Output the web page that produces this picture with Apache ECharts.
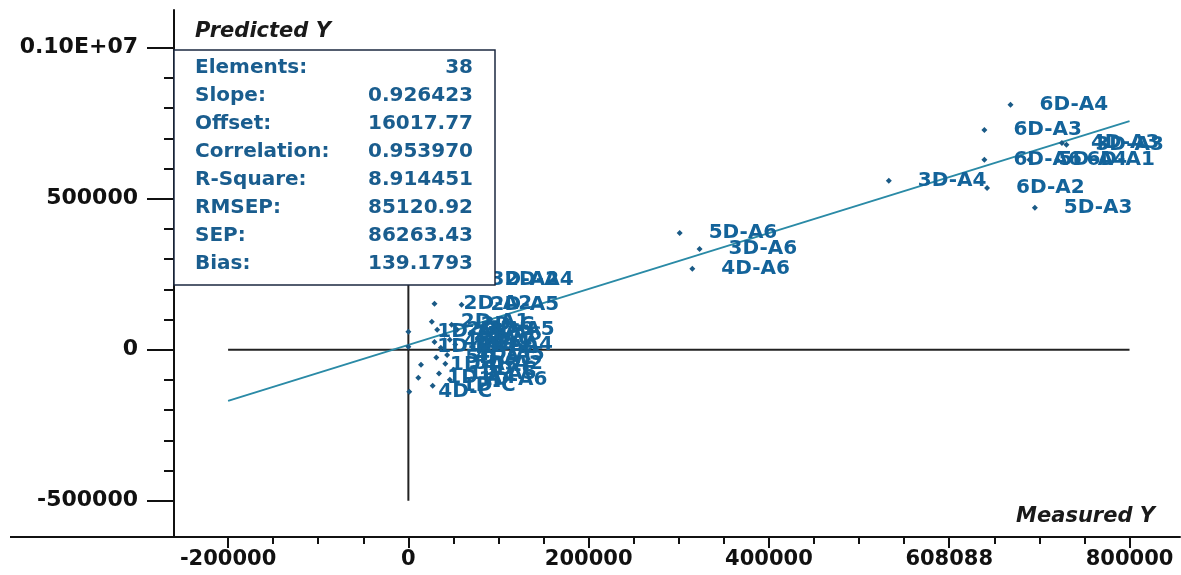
<!DOCTYPE html>
<html>
<head>
<meta charset="utf-8">
<script src="https://cdn.jsdelivr.net/npm/echarts@6/dist/echarts.min.js"></script>
<style>
  html, body { margin: 0; padding: 0; background: #ffffff; }
  #chart { width: 1181px; height: 575px; }
</style>
</head>
<body>
<div id="chart"></div>
<script>
// Sample identifiers with measured (x) and predicted (y) values
const sampleNames = [
  '6D-A4', '6D-A3', '4D-A3', '3D-A3', '6D-A6', '5D-A4', '6D-A1', '6D-A2', '5D-A3', '3D-A4',
  '5D-A6', '3D-A6', '4D-A6',
  '3D-A2', '2D-A4', '2D-A2', '2D-A5', '4D-C',
  '1D-A1', '1D-A2', '1D-A3', '1D-A4', '2D-A1', '2D-A3', '2D-A6', '2D-C', '3D-A5', '3D-C',
  '4D-A1', '4D-A2', '4D-A4', '4D-A5', '5D-A1', '5D-A2', '5D-C', '1D-A5', '1D-A6', '1D-C'
];
const measuredY = [
  668000, 639000, 725000, 730000, 639000, 689000, 720000, 642000, 695000, 533000,
  301000, 323000, 315000,
  59000, 75000, 29000, 59000, 1000,
  0, 0, 14000, 11000, 26000, 32000, 40000, 48000, 54000, 46000,
  29000, 36000, 52000, 43000, 31000, 41000, 50000, 34000, 46000, 27000
];
const predictedY = [
  811000, 728000, 685000, 679000, 629000, 629000, 629000, 536000, 470000, 560000,
  387000, 334000, 268000,
  232000, 232000, 152000, 149000, -139000,
  60000, 10000, -50000, -93000, 93000, 66000, 50000, 83000, 66000, 33000,
  26000, 7000, 17000, -17000, -26000, -46000, -66000, -79000, -99000, -119000
];

// Regression statistics
const statNames = ['Elements:', 'Slope:', 'Offset:', 'Correlation:', 'R-Square:', 'RMSEP:', 'SEP:', 'Bias:'];
const statValues = ['38', '0.926423', '16017.77', '0.953970', '8.914451', '85120.92', '86263.43', '139.1793'];
const fitSlope = 0.926423;
const fitOffset = 16017.77;
const fitRange = [-200000, 800000];

// Reference cross lines through the origin
const zeroLineX = [-200000, 800000];
const zeroLineY = [-500000, 900000];

// Axis ticks and their labels
const xMajorTicks = [-200000, 0, 200000, 400000, 600000, 800000];
const xTickLabels = ['-200000', '0', '200000', '400000', '608088', '800000'];
const xMinorTicks = [-150000, -100000, -50000, 50000, 100000, 150000, 250000, 300000, 350000,
  450000, 500000, 550000, 650000, 700000, 750000];
const yMajorTicks = [-500000, 0, 500000, 1000000];
const yTickLabels = ['-500000', '0', '500000', '0.10E+07'];
const yMinorTicks = [-400000, -300000, -200000, -100000, 100000, 200000, 300000, 400000,
  600000, 700000, 800000, 900000];

const xRange = [-260000, 856000];
const yRange = [-620000, 1125000];

const pointColor = '#1a5a86';
const labelColor = '#13639a';
const statColor = '#1a5d8e';
const axisFont = 'DejaVu Sans';

const chart = echarts.init(document.getElementById('chart'), null, { renderer: 'canvas' });

const samples = sampleNames.map((n, i) => ({ name: n, value: [measuredY[i], predictedY[i]] }));
const fitLine = fitRange.map(x => [x, fitSlope * x + fitOffset]);

const statGraphics = [];
statNames.forEach((s, i) => {
  statGraphics.push({
    type: 'text', z: 101,
    x: 195, y: 68 + i * 27.9,
    style: { text: s, fill: statColor, font: 'bold 20px "DejaVu Sans"', textVerticalAlign: 'middle', textAlign: 'left' }
  });
  statGraphics.push({
    type: 'text', z: 101,
    x: 473, y: 68 + i * 27.9,
    style: { text: statValues[i], fill: statColor, font: 'bold 20px "DejaVu Sans"', textVerticalAlign: 'middle', textAlign: 'right' }
  });
});

function tickLabel(ticks, labels) {
  return v => {
    const k = ticks.indexOf(v);
    return k >= 0 ? labels[k] : '';
  };
}

chart.setOption({
  animation: false,
  backgroundColor: '#ffffff',
  grid: { left: 174, right: 1, top: 10, bottom: 38, containLabel: false },
  xAxis: [
    {
      type: 'value', min: xRange[0], max: xRange[1],
      axisLine: { show: true, onZero: false, lineStyle: { color: '#111', width: 2 } },
      axisTick: { show: true, customValues: xMajorTicks, length: 11, lineStyle: { color: '#111', width: 2 } },
      axisLabel: {
        show: true, customValues: xMajorTicks, formatter: tickLabel(xMajorTicks, xTickLabels),
        margin: 12, color: '#111', fontFamily: axisFont, fontWeight: 'bold', fontSize: 21
      },
      splitLine: { show: false }
    },
    {
      type: 'value', min: xRange[0], max: xRange[1], position: 'bottom',
      axisLine: { show: false, onZero: false },
      axisTick: { show: true, customValues: xMinorTicks, length: 7, lineStyle: { color: '#111', width: 2 } },
      axisLabel: { show: false },
      splitLine: { show: false }
    }
  ],
  yAxis: [
    {
      type: 'value', min: yRange[0], max: yRange[1],
      axisLine: { show: true, onZero: false, lineStyle: { color: '#111', width: 2 } },
      axisTick: { show: true, customValues: yMajorTicks, length: 27, lineStyle: { color: '#111', width: 2 } },
      axisLabel: {
        show: true, customValues: yMajorTicks, formatter: tickLabel(yMajorTicks, yTickLabels),
        margin: 36, color: '#111', fontFamily: axisFont, fontWeight: 'bold', fontSize: 22
      },
      splitLine: { show: false }
    },
    {
      type: 'value', min: yRange[0], max: yRange[1], position: 'left',
      axisLine: { show: false, onZero: false },
      axisTick: { show: true, customValues: yMinorTicks, length: 10, lineStyle: { color: '#111', width: 2 } },
      axisLabel: { show: false },
      splitLine: { show: false }
    }
  ],
  series: [
    {
      name: 'zero-x', type: 'line', data: zeroLineX.map(x => [x, 0]),
      showSymbol: false, silent: true, z: 1,
      lineStyle: { color: '#222', width: 2 }
    },
    {
      name: 'zero-y', type: 'line', data: zeroLineY.map(y => [0, y]),
      showSymbol: false, silent: true, z: 1,
      lineStyle: { color: '#222', width: 2 }
    },
    {
      name: 'fit', type: 'line', data: fitLine,
      showSymbol: false, silent: true, z: 3,
      lineStyle: { color: '#2a8aa6', width: 2 }
    },
    {
      name: 'samples', type: 'scatter', data: samples, z: 4,
      symbol: 'diamond', symbolSize: 6,
      itemStyle: { color: pointColor, opacity: 1 },
      label: {
        show: true, position: 'right', distance: 26, formatter: '{b}', opacity: 1,
        color: labelColor, fontFamily: axisFont, fontWeight: 'bold', fontSize: 20
      },
      labelLayout: { hideOverlap: false }
    }
  ],
  graphic: [
    // x axis line continues left of the vertical axis
    { type: 'line', z: 100, shape: { x1: 10, y1: 537, x2: 174, y2: 537 }, style: { stroke: '#111', lineWidth: 2 } },
    {
      type: 'text', z: 101, x: 195, y: 32,
      style: { text: 'Predicted Y', fill: '#1a1a1a', font: 'italic bold 21px "DejaVu Sans"', textVerticalAlign: 'middle' }
    },
    {
      type: 'text', z: 101, x: 1155, y: 517,
      style: { text: 'Measured Y', fill: '#1a1a1a', font: 'italic bold 21px "DejaVu Sans"', textVerticalAlign: 'middle', textAlign: 'right' }
    },
    {
      type: 'rect', z: 100,
      shape: { x: 174, y: 50, width: 321, height: 235 },
      style: { fill: '#ffffff', stroke: '#1b2940', lineWidth: 1.5 }
    }
  ].concat(statGraphics)
});
</script>
</body>
</html>
